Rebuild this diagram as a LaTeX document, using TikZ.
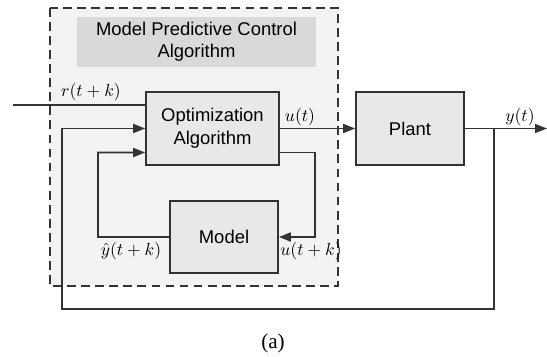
\documentclass[tikz,border=0pt]{standalone}
\usepackage{amsmath}
\usepackage{fontspec}
\setmainfont{Liberation Serif}
\setsansfont{Liberation Sans}
\usepackage{tikz}
\usetikzlibrary{arrows.meta}

\definecolor{boxgray}{HTML}{E8E8E8}
\definecolor{titlegray}{HTML}{D9D9D9}
\definecolor{areagray}{HTML}{F3F3F3}
\definecolor{linegray}{HTML}{333333}

\tikzset{
    block/.style={draw=linegray, line width=0.9pt, fill=boxgray,
        font=\sffamily\fontsize{10.5}{13}\selectfont, align=center,
        inner sep=0pt},
    wire/.style={draw=linegray, line width=0.9pt},
    arrowwire/.style={wire, -{Triangle[length=2.4mm,width=1.8mm]}},
    sig/.style={inner sep=1pt, font=\fontsize{10}{12}\selectfont}
}

\begin{document}
\begin{tikzpicture}[x=0.02cm,y=-0.02cm]
                \useasboundingbox (0,0) rectangle (547,356);

                % controller area
                \draw[linegray, line width=0.9pt, dashed, dash pattern=on 5pt off 3pt,
                    fill=areagray] (50,8) rectangle (338,286);
                \node[fill=titlegray, minimum width=4.78cm, minimum height=1cm,
                    align=center, font=\sffamily\fontsize{10.5}{12.5}\selectfont]
                    (title) at (196.5,42) {Model Predictive Control\\Algorithm};

                % blocks
                \node[block, minimum width=2.66cm, minimum height=1.46cm]
                    (opt) at (212.5,128.5) {Optimization\\Algorithm};
                \node[block, minimum width=2.16cm, minimum height=1.46cm]
                    (plant) at (410,128.5) {Plant};
                \node[block, minimum width=2.16cm, minimum height=1.44cm]
                    (model) at (224,237) {Model};

                % free ends and corners
                \coordinate (rin) at (13,105);
                \coordinate (yout) at (547,128.5);
                \coordinate (tap) at (494,128.5);
                \coordinate (fb) at (62,309);
                \coordinate (ukc) at (315,237);
                \coordinate (yhc) at (98,152.5);

                % signals
                \draw[wire] (rin) -- (rin -| opt.west);
                \node[sig] (rlab) at (91,92) {$r(t+k)$};

                \draw[arrowwire] (opt.east) -- (plant.west);
                \node[sig] (ulab) at (300,117) {$u(t)$};

                \draw[arrowwire] (plant.east) -- (yout);
                \node[sig] (ylab) at (520,117) {$y(t)$};

                \draw[arrowwire] (tap) |- (fb) |- (opt.west);

                \draw[arrowwire] ([yshift=-0.48cm]opt.east) -| (ukc) -- (model.east);
                \node[sig] (uklab) at (311,251) {$u(t+k)$};

                \draw[arrowwire] (model.west) -| (yhc) -- ([yshift=-0.48cm]opt.west);
                \node[sig] (yhlab) at (131,251) {$\hat{y}(t+k)$};

                \node[font=\fontsize{12}{14}\selectfont] (cap) at (273,343) {(a)};
            \end{tikzpicture}
\end{document}
